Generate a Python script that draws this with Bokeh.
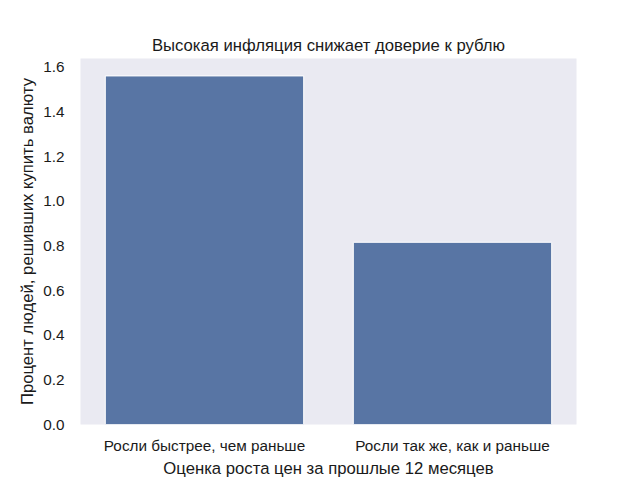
from bokeh.plotting import figure
from bokeh.models import FixedTicker, PrintfTickFormatter, Range1d, ColumnDataSource
from bokeh.embed import file_html
from bokeh.resources import INLINE

categories = ["Росли быстрее, чем раньше", "Росли так же, как и раньше"]
values = [1.561, 0.816]
y_ticks = [0.0, 0.2, 0.4, 0.6, 0.8, 1.0, 1.2, 1.4, 1.6]

title = "Высокая инфляция снижает доверие к рублю"
x_label = "Оценка роста цен за прошлые 12 месяцев"
y_label = "Процент людей, решивших купить валюту"

FONT = "Liberation Sans"
TXT = "#1a1a1a"

src = ColumnDataSource(dict(cat=categories, val=values))

p = figure(width=640, height=480, x_range=categories, output_backend="svg",
           toolbar_location=None, title=title,
           min_border_left=80, min_border_right=64, min_border_top=58, min_border_bottom=52)
p.y_range = Range1d(0, max(values) * 1.05)
p.x_range.range_padding = 0

p.vbar(x="cat", top="val", width=0.8, source=src, fill_color="#5875a4",
       line_color="white", line_width=1)

p.background_fill_color = "#eaeaf2"
p.border_fill_color = "white"
p.outline_line_color = None
p.xgrid.grid_line_color = None
p.ygrid.grid_line_color = None

p.title.text_font = FONT
p.title.text_font_size = "16.7px"
p.title.text_font_style = "normal"
p.title.text_color = TXT
p.title.align = "center"
p.title.standoff = 8

for ax in (p.xaxis[0], p.yaxis[0]):
    ax.axis_line_color = None
    ax.major_tick_line_color = None
    ax.minor_tick_line_color = None
    ax.major_label_text_font = FONT
    ax.major_label_text_font_size = "15.3px"
    ax.major_label_text_color = TXT
    ax.axis_label_text_font = FONT
    ax.axis_label_text_font_size = "16.7px"
    ax.axis_label_text_font_style = "normal"
    ax.axis_label_text_color = TXT

p.yaxis.ticker = FixedTicker(ticks=y_ticks)
p.yaxis.formatter = PrintfTickFormatter(format="%.1f")
p.yaxis.axis_label = y_label
p.xaxis.axis_label = x_label
p.yaxis.major_label_standoff = 10
p.xaxis.major_label_standoff = 6
p.yaxis.axis_label_standoff = 3
p.xaxis.axis_label_standoff = 2

open("out.html", "w").write(file_html(p, INLINE))
